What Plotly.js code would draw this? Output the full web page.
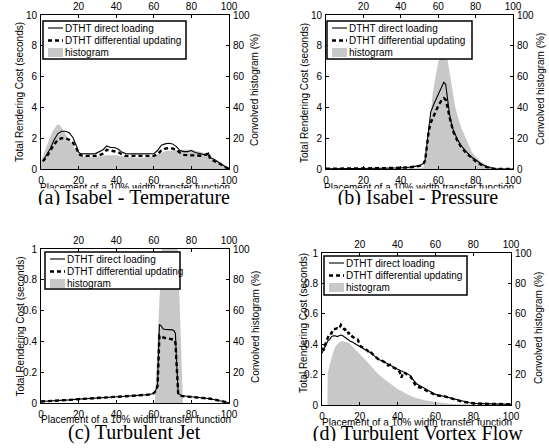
<!DOCTYPE html>
<html><head><meta charset="utf-8">
<script src="https://cdn.plot.ly/plotly-3.0.1.min.js"></script>
<style>html,body{margin:0;padding:0;background:#fff}</style>
</head><body><div id="chart" style="width:549px;height:448px"></div>
<script>
// ---------- data ----------
const tempX = [1,3,5,7,9,11,13,15,17,19,20,21,23,25,27,29,31,33,35,37,39,41,43,45,50,55,60,62,64,66,68,70,72,74,76,78,80,82,84,86,88,89,90,92,94,96,98,100];
const tempDirect = [0.5,0.9,1.35,1.9,2.3,2.45,2.45,2.35,2.05,1.45,1.1,1.0,0.98,0.97,0.98,1.0,1.1,1.25,1.5,1.4,1.4,1.3,1.1,1.0,0.98,0.98,1.0,1.2,1.55,1.63,1.67,1.63,1.45,1.2,1.13,1.13,1.2,1.07,1.02,0.98,0.9,1.05,0.75,0.63,0.48,0.33,0.15,0.0];
const tempDiff = [0.5,0.8,1.2,1.6,1.9,2.0,2.0,1.9,1.7,1.3,1.0,0.9,0.85,0.85,0.85,0.85,0.9,1.0,1.25,1.2,1.15,1.1,0.95,0.85,0.85,0.85,0.85,0.95,1.2,1.32,1.35,1.33,1.25,1.05,0.92,0.9,0.9,0.88,0.88,0.86,0.95,1.05,0.65,0.55,0.4,0.28,0.12,0.02];
const tempHistX = [0,2,4,6,8,9,10,12,14,16,18,20,22,25,30,35,40,45,50,55,60,63,66,70,75,80,85,88,90,93,96,100];
const tempHist = [5,12,18,24,28,29,28.5,25,21,17,13,10,8.5,8,8,9,9,8,7.5,7.5,8.5,10,11.5,12,12.5,12.5,11,9.5,8,6,3.5,0];

const presX = [0,10,20,30,40,45,50,52,53,54,55,56,58,60,62,63,64,64.5,65,66,67,68,70,72,75,78,80,83,86,90,95,100];
const presDirect = [0.02,0.02,0.03,0.05,0.08,0.12,0.22,0.35,0.6,1.7,3.0,3.7,4.3,4.8,5.4,5.63,5.5,5.0,4.5,3.6,3.0,2.55,2.0,1.55,1.13,0.76,0.6,0.33,0.15,0.02,0,0];
const presDiff = [0.02,0.02,0.03,0.05,0.08,0.11,0.2,0.3,0.55,1.45,2.5,3.0,3.6,4.1,4.5,4.6,4.5,4.3,4.0,3.4,2.9,2.45,1.9,1.48,1.03,0.68,0.5,0.28,0.12,0.01,0,0];
const presHistX = [0,20,40,50,52,53,54,55,56,57,58,59,60,61,62,63,64,65,66,67,68,69,70,72,74,76,78,80,83,86,90,95,100];
const presHist = [0.3,0.3,0.4,0.5,1,4,12,25,38,48,56,63,69,74,78,80,78,71,63,55,47,41,36,28,22,16,11,8,4.5,2.5,1,0.3,0];

const jetX = [0,5,10,15,20,25,30,35,40,45,50,55,58,60,61,62,62.5,63,64,65,66,68,70,71,71.5,72,72.5,73,75,80,85,90,95,100];
const jetDirect = [0.01,0.012,0.015,0.02,0.025,0.028,0.032,0.036,0.04,0.044,0.048,0.05,0.055,0.065,0.08,0.12,0.3,0.51,0.5,0.48,0.478,0.477,0.475,0.465,0.45,0.3,0.12,0.06,0.047,0.04,0.035,0.028,0.015,0.002];
const jetDiff = [0.01,0.012,0.015,0.02,0.025,0.028,0.032,0.036,0.04,0.044,0.048,0.05,0.055,0.063,0.078,0.11,0.28,0.437,0.43,0.425,0.422,0.418,0.415,0.41,0.39,0.28,0.11,0.055,0.045,0.04,0.035,0.028,0.015,0.002];
const jetHistX = [0,60,60.6,62,63,64,65,68,71,72.8,74.6,75.5,100];
const jetHist = [0,0,0,40,70,100,120,130,120,100,40,0,0];

const vortX = [0,1,2,3,4,5,6,7,8,9,10,11,12,13,14,15,16,18,19,20,22,24,25,26,28,30,32,34,35,36,38,40,41,42,43,44,46,47,48,50,52,55,58,60,62,65,68,70,72,75,78,80,85,90,95,100];
const vortDirect = [0.34,0.37,0.40,0.42,0.43,0.45,0.455,0.455,0.45,0.455,0.46,0.455,0.445,0.44,0.43,0.42,0.415,0.4,0.395,0.39,0.37,0.355,0.35,0.34,0.32,0.3,0.29,0.275,0.27,0.265,0.25,0.235,0.23,0.225,0.22,0.21,0.2,0.19,0.17,0.14,0.125,0.105,0.085,0.07,0.065,0.055,0.045,0.04,0.032,0.022,0.015,0.011,0.009,0.007,0.006,0.004];
const vortDiff = [0.375,0.36,0.41,0.44,0.47,0.47,0.5,0.5,0.505,0.5,0.527,0.51,0.495,0.5,0.47,0.475,0.45,0.435,0.43,0.39,0.375,0.36,0.34,0.345,0.32,0.3,0.29,0.275,0.26,0.265,0.245,0.235,0.22,0.18,0.215,0.21,0.19,0.185,0.16,0.12,0.115,0.095,0.08,0.066,0.06,0.057,0.045,0.035,0.03,0.02,0.013,0.012,0.008,0.008,0.006,0.005];
const vortHistX = [2.9,3,4,5,6,7,8,9,10,11,12,13,14,15,17,20,23,25,28,30,33,35,38,40,43,45,48,50,55,60,65,70,80,90,100];
const vortHist = [0,21,26,31,35,38,40,41,42,42,41.8,41.5,41,40,37.5,33.5,29.5,27,22.5,20,17,15,12,10.5,8.5,7,5.5,4.6,2.9,1.8,1.1,0.7,0.2,0.05,0];

const xTicks = [0,20,40,60,80,100];
const topTicks = [20,40,60,80,100];
const histTicks = [0,20,40,60,80,100];
const costTicksBig = [0,2,4,6,8,10];
const costTicksSmall = [0,0.2,0.4,0.6,0.8,1];
const captions = ['(a) Isabel - Temperature','(b) Isabel - Pressure','(c) Turbulent Jet','(d) Turbulent Vortex Flow'];
const legendNames = ['DTHT direct loading','DTHT differential updating','histogram'];
const xTitle = 'Placement of a 10% width transfer function';
const yLeftTitle = 'Total Rendering Cost (seconds)';
const yRightTitle = 'Convolved histogram (%)';

// ---------- layout geometry (pixels) ----------
const W = 549, H = 448;
const fx = p => p / W, fy = p => 1 - p / H;
const SANS = 'Liberation Sans, Arial, Helvetica, sans-serif';
const SERIF = 'Liberation Serif, Times New Roman, serif';
const HIST_COLOR = '#c8c8c8';

const panels = [
  {x: tempX, d: tempDirect, u: tempDiff, hx: tempHistX, h: tempHist, yMax: 10, yTicks: costTicksBig,
   box: {l: 41, r: 229, t: 15, b: 169}, leg: {l: 43, r: 186, t: 21, b: 59},
   ylab: {lx: 20, rx: 254, ly: 92, ry: 90}, xlab: {cx: 135, cy: 187}, cap: {cx: 134, cy: 197, cover: 189}},
  {x: presX, d: presDirect, u: presDiff, hx: presHistX, h: presHist, yMax: 10, yTicks: costTicksBig,
   box: {l: 326, r: 513, t: 15, b: 169}, leg: {l: 327, r: 472, t: 21, b: 59},
   ylab: {lx: 304, rx: 540, ly: 93, ry: 89}, xlab: {cx: 419, cy: 187}, cap: {cx: 418, cy: 197, cover: 189}},
  {x: jetX, d: jetDirect, u: jetDiff, hx: jetHistX, h: jetHist, yMax: 1, yTicks: costTicksSmall,
   box: {l: 41, r: 229, t: 249, b: 403}, leg: {l: 45, r: 180, t: 252, b: 289},
   ylab: {lx: 19.5, rx: 255, ly: 327, ry: 327}, xlab: {cx: 136, cy: 419.5}, cap: {cx: 134, cy: 432, cover: null}},
  {x: vortX, d: vortDirect, u: vortDiff, hx: vortHistX, h: vortHist, yMax: 1, yTicks: costTicksSmall,
   box: {l: 322, r: 511, t: 253, b: 405}, leg: {l: 324, r: 467, t: 256, b: 295},
   ylab: {lx: 303, rx: 538, ly: 323, ry: 328}, xlab: {cx: 416.5, cy: 422}, cap: {cx: 417.5, cy: 433, cover: 425.5}}
];

const axName = (l, n) => n === 1 ? l + 'axis' : l + 'axis' + n;
const axRef = (l, n) => n === 1 ? l : l + n;
const tickFont = {family: SANS, size: 10, color: '#000'};
const baseAxis = {showline: true, linecolor: '#000', linewidth: 1, ticks: 'inside', ticklen: 3,
  tickcolor: '#000', tickwidth: 1, showgrid: false, zeroline: false, tickfont: tickFont, fixedrange: true};

const traces = [];
const layout = {width: W, height: H, margin: {l: 0, r: 0, t: 0, b: 0}, showlegend: false,
  paper_bgcolor: '#fff', plot_bgcolor: 'rgba(0,0,0,0)', shapes: [], annotations: []};

panels.forEach((p, i) => {
  const bx = 2 * i + 1, tx = 2 * i + 2, ry = 2 * i + 1, ly = 2 * i + 2;
  const B = p.box;
  layout[axName('x', bx)] = Object.assign({}, baseAxis, {domain: [fx(B.l), fx(B.r)], range: [0, 100],
    anchor: axRef('y', ry), side: 'bottom', tickvals: xTicks, ticklabelstandoff: 2, mirror: true});
  layout[axName('x', tx)] = Object.assign({}, baseAxis, {overlaying: axRef('x', bx), range: [0, 100],
    anchor: axRef('y', ry), side: 'top', tickvals: topTicks, ticklabelstandoff: 0});
  layout[axName('y', ry)] = Object.assign({}, baseAxis, {domain: [fy(B.b), fy(B.t)], range: [0, 100],
    anchor: axRef('x', bx), side: 'right', tickvals: histTicks, ticklabelstandoff: 1, mirror: true});
  layout[axName('y', ly)] = Object.assign({}, baseAxis, {overlaying: axRef('y', ry), range: [0, p.yMax],
    anchor: axRef('x', bx), side: 'left', tickvals: p.yTicks, ticklabelstandoff: 1});

  traces.push({type: 'scatter', mode: 'lines', x: p.hx, y: p.h, xaxis: axRef('x', bx), yaxis: axRef('y', ry),
    fill: 'tozeroy', fillcolor: HIST_COLOR, line: {width: 0, color: HIST_COLOR}, hoverinfo: 'skip', name: legendNames[2]});
  traces.push({type: 'scatter', mode: 'lines', x: p.x, y: p.d, xaxis: axRef('x', bx), yaxis: axRef('y', ly),
    line: {color: '#000', width: 1.1}, hoverinfo: 'skip', name: legendNames[0]});
  traces.push({type: 'scatter', mode: 'lines', x: p.x, y: p.u, xaxis: axRef('x', bx), yaxis: axRef('y', ly),
    line: {color: '#000', width: 2.4, dash: '4px,3px'}, hoverinfo: 'skip', name: legendNames[1]});
  traces.push({type: 'scatter', mode: 'lines', x: [], y: [], xaxis: axRef('x', tx), yaxis: axRef('y', ry),
    hoverinfo: 'skip', showlegend: false});

  // legend box (drawn manually for compact MATLAB-like spacing)
  const L = p.leg;
  layout.shapes.push({type: 'rect', xref: 'paper', yref: 'paper', x0: fx(L.l), x1: fx(L.r), y0: fy(L.b), y1: fy(L.t),
    fillcolor: '#fff', line: {color: '#000', width: 1.5}, layer: 'above'});
  const rows = [L.t + 7, L.t + 19.5, L.t + 31.5];
  layout.shapes.push({type: 'line', xref: 'paper', yref: 'paper', x0: fx(L.l + 5), x1: fx(L.l + 20), y0: fy(rows[0]), y1: fy(rows[0]),
    line: {color: '#000', width: 1.1}, layer: 'above'});
  layout.shapes.push({type: 'line', xref: 'paper', yref: 'paper', x0: fx(L.l + 5), x1: fx(L.l + 20), y0: fy(rows[1]), y1: fy(rows[1]),
    line: {color: '#000', width: 2.4, dash: '4px,3px'}, layer: 'above'});
  layout.shapes.push({type: 'rect', xref: 'paper', yref: 'paper', x0: fx(L.l + 5), x1: fx(L.l + 20), y0: fy(rows[2] + 4.5), y1: fy(rows[2] - 4.5),
    fillcolor: HIST_COLOR, line: {width: 0}, layer: 'above'});
  legendNames.forEach((nm, k) => layout.annotations.push({text: nm, xref: 'paper', yref: 'paper', x: fx(L.l + 21), y: fy(rows[k]),
    xanchor: 'left', yanchor: 'middle', showarrow: false, font: {family: SANS, size: 10, color: '#000'}, borderpad: 0}));

  // axis titles
  layout.annotations.push({text: yLeftTitle, textangle: -90, xref: 'paper', yref: 'paper', x: fx(p.ylab.lx), y: fy(p.ylab.ly),
    xanchor: 'center', yanchor: 'middle', showarrow: false, font: {family: SANS, size: 10, color: '#000'}});
  layout.annotations.push({text: yRightTitle, textangle: -90, xref: 'paper', yref: 'paper', x: fx(p.ylab.rx), y: fy(p.ylab.ry),
    xanchor: 'center', yanchor: 'middle', showarrow: false, font: {family: SANS, size: 10, color: '#000'}});
  layout.annotations.push({text: xTitle, xref: 'paper', yref: 'paper', x: fx(p.xlab.cx), y: fy(p.xlab.cy),
    xanchor: 'center', yanchor: 'middle', showarrow: false, font: {family: SANS, size: 10, color: '#000'}});

  // caption (sub-figure label), optionally cropping the axis title beneath it
  const C = p.cap;
  const cap = {text: captions[i], xref: 'paper', yref: 'paper', x: fx(C.cx), y: fy(C.cy), xanchor: 'center', yanchor: 'middle',
    showarrow: false, font: {family: SERIF, size: 20, color: '#000'}, borderpad: 0};
  if (C.cover !== null) {
    cap.bgcolor = '#fff';
    cap.width = 230;
    cap.height = 2 * (C.cy - C.cover);
    cap.valign = 'middle';
  }
  layout.annotations.push(cap);
});

Plotly.newPlot('chart', traces, layout, {displayModeBar: false, staticPlot: true});
</script></body></html>
